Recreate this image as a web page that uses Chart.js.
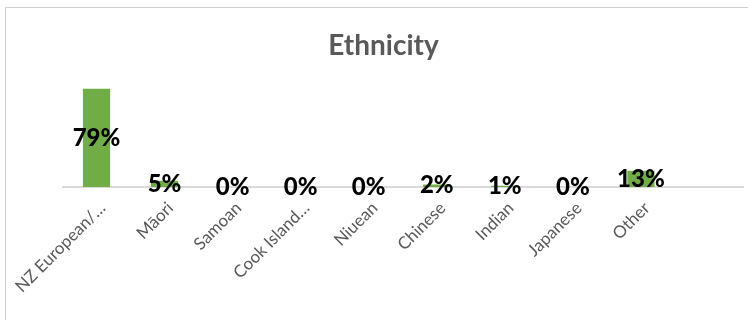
<!DOCTYPE html>
<html>
<head>
<meta charset="utf-8">
<script src="https://cdn.jsdelivr.net/npm/chart.js@4.4.1/dist/chart.umd.min.js"></script>
<style>
    html, body { margin: 0; padding: 0; background: #fff; }
    #wrap { position: relative; width: 748px; height: 320px; overflow: hidden; }
    #frame { position: absolute; left: 5px; top: 7px; width: 800px; height: 400px; border: 1px solid #d0d0d0; box-sizing: border-box; }
    #ethnicityChart { position: absolute; left: 0; top: 0; }
</style>
</head>
<body>
<div id="wrap">
    <div id="frame"></div>
    <canvas id="ethnicityChart" width="748" height="320"></canvas>
</div>
<script>
// Ethnicity breakdown (% of respondents); last slot is an empty category
var categories = ['NZ European/\u2026', 'M\u0101ori', 'Samoan', 'Cook Island\u2026', 'Niuean', 'Chinese', 'Indian', 'Japanese', 'Other', ''];
var percentages = [79, 5, 0, 0, 0, 2, 1, 0, 13, null];

// Writes the value in the middle of each bar
var barValueLabels = {
    id: 'barValueLabels',
    afterDatasetsDraw: function(chart) {
        var ctx = chart.ctx;
        var meta = chart.getDatasetMeta(0);
        ctx.save();
        ctx.font = '900 24px Lato';
        ctx.fillStyle = '#000';
        ctx.textAlign = 'center';
        ctx.textBaseline = 'middle';
        meta.data.forEach(function(bar, i) {
            var v = percentages[i];
            if (v === null) return;
            ctx.fillText(v + '%', bar.x, (bar.y + bar.base) / 2);
        });
        ctx.restore();
    }
};

document.addEventListener('DOMContentLoaded', function() {
    var ctx = document.getElementById('ethnicityChart').getContext('2d');
    var ethnicityChart = new Chart(ctx, {
        type: 'bar',
        data: {
            labels: categories,
            datasets: [{
                label: 'Ethnicity',
                data: percentages,
                backgroundColor: '#70ad47',
                borderWidth: 0,
                barPercentage: 0.4,
                categoryPercentage: 1
            }]
        },
        options: {
            responsive: false,
            animation: false,
            layout: {
                padding: { left: 24, right: 5, top: 0, bottom: 0 }
            },
            plugins: {
                legend: { display: false },
                tooltip: { enabled: false },
                title: {
                    display: true,
                    text: 'Ethnicity',
                    color: '#595959',
                    font: { family: 'Lato', size: 28, weight: 'bold' },
                    padding: { top: 29, bottom: 0 }
                }
            },
            scales: {
                x: {
                    grid: { display: false },
                    border: { display: true, color: '#d9d9d9', width: 2 },
                    ticks: {
                        color: '#595959',
                        font: { family: 'Lato', size: 17 },
                        minRotation: 45,
                        maxRotation: 45,
                        autoSkip: false,
                        padding: 3,
                        labelOffset: 6
                    },
                    afterFit: function(scale) { scale.height = 133; }
                },
                y: {
                    min: 0,
                    max: 100,
                    grid: { display: false },
                    border: { display: false },
                    ticks: { display: false },
                    afterFit: function(scale) { scale.width = 38.5; }
                }
            }
        },
        plugins: [barValueLabels]
    });
});
</script>
</body>
</html>
